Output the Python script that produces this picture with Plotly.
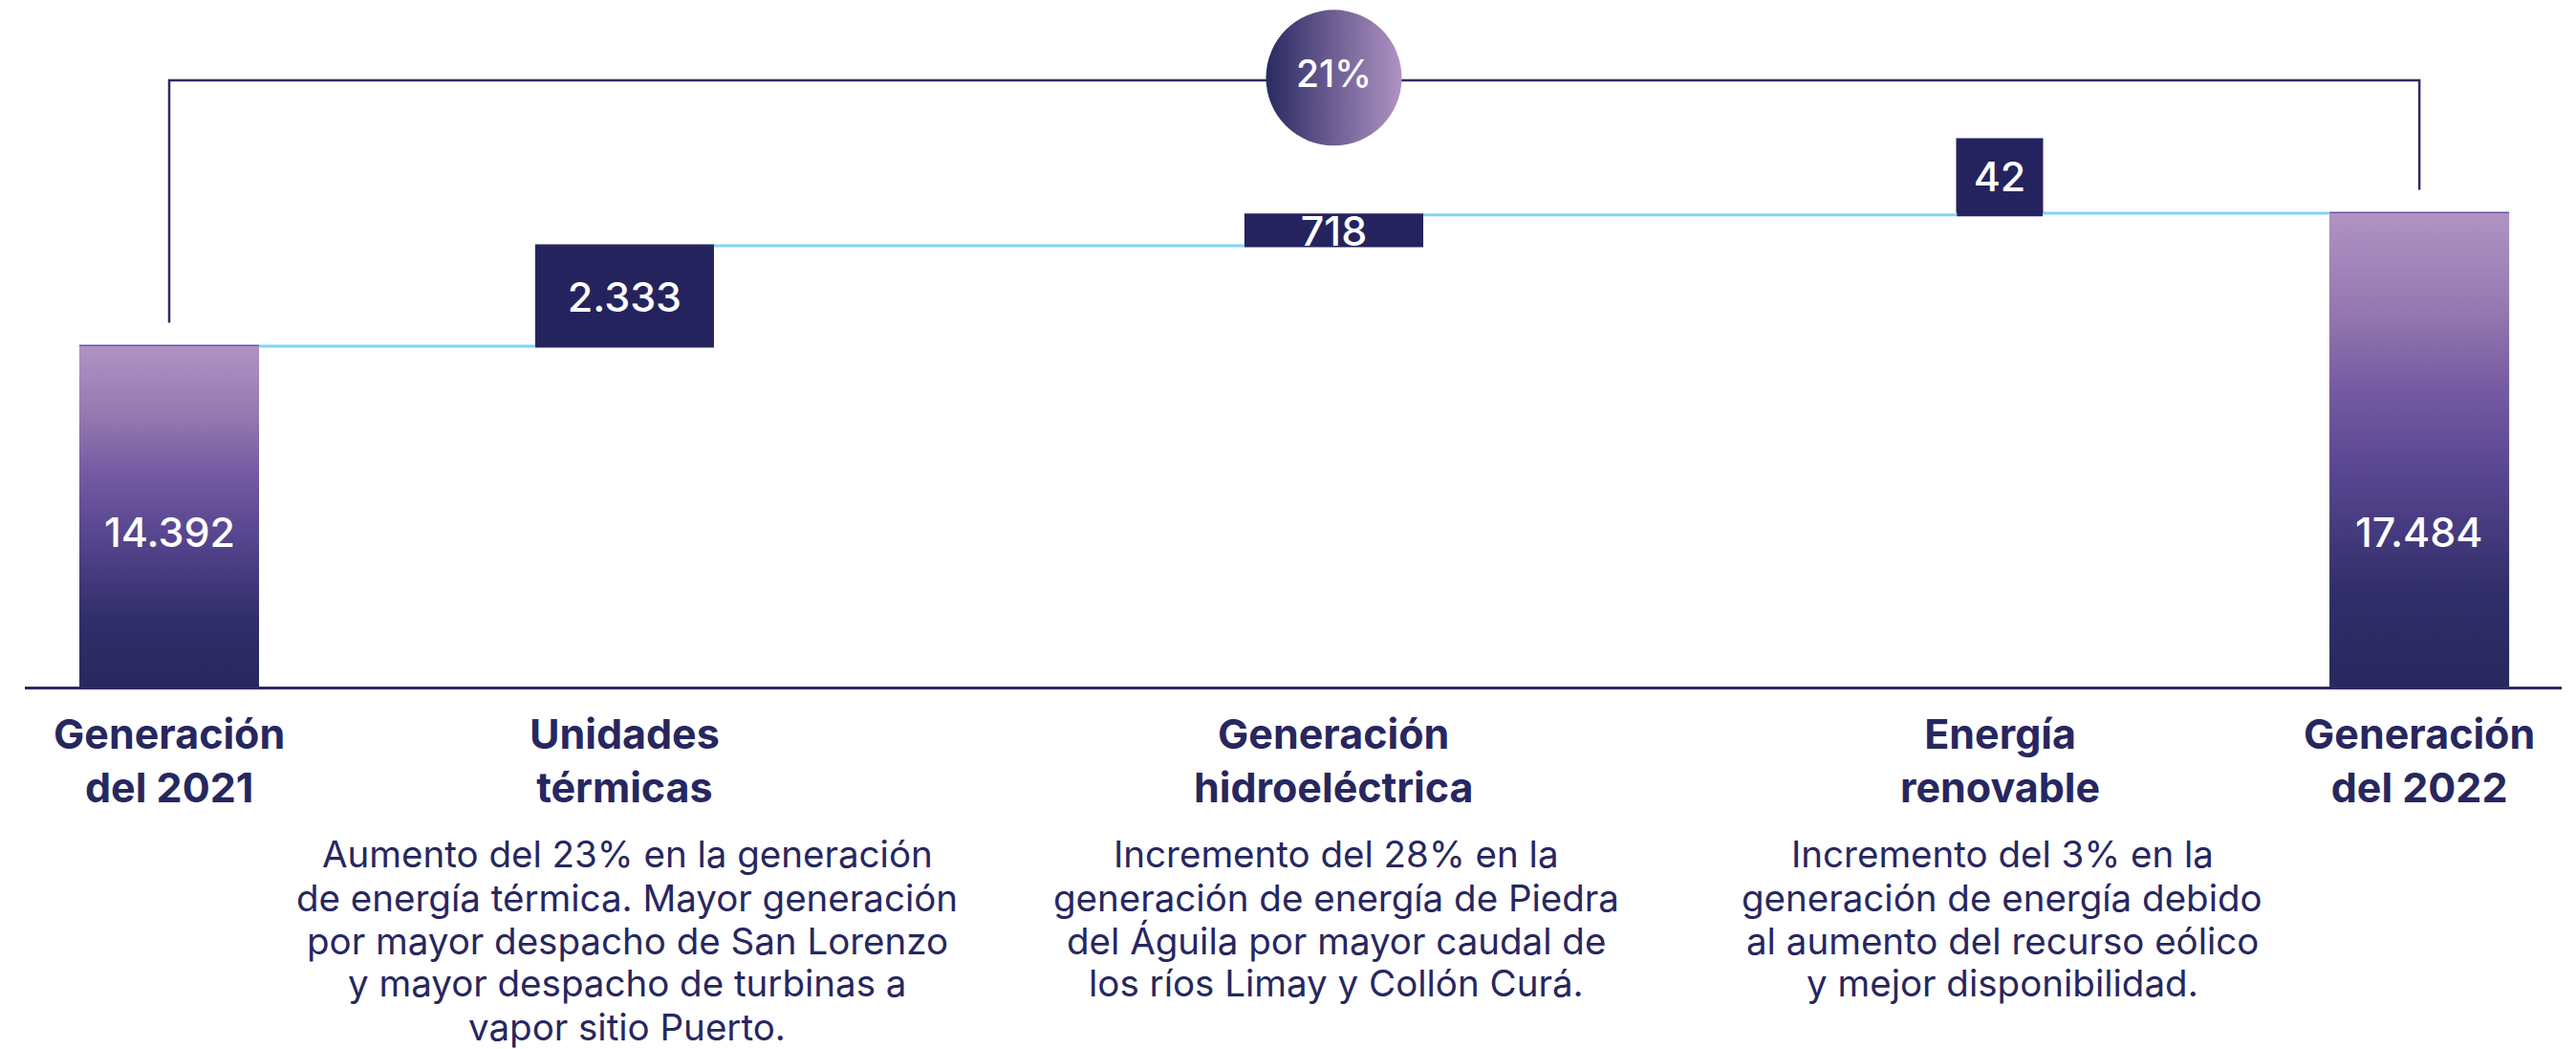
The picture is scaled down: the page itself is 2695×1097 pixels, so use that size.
import plotly.graph_objects as go

# ---------------- data ----------------
categories = ["Generación del 2021", "Unidades térmicas", "Generación hidroeléctrica",
              "Energía renovable", "Generación del 2022"]
heading_lines = [["Generación", "del 2021"], ["Unidades", "térmicas"],
                 ["Generación", "hidroeléctrica"], ["Energía", "renovable"],
                 ["Generación", "del 2022"]]
values = [14392, 2333, 718, 42, 17484]
measures = ["absolute", "relative", "relative", "relative", "total"]
description_lines = [
    [],
    ["Aumento del 23% en la generación", "de energía térmica. Mayor generación",
     "por mayor despacho de San Lorenzo", "y mayor despacho de turbinas a",
     "vapor sitio Puerto."],
    ["Incremento del 28% en la", "generación de energía de Piedra",
     "del Águila por mayor caudal de", "los ríos Limay y Collón Curá."],
    ["Incremento del 3% en la", "generación de energía debido",
     "al aumento del recurso eólico", "y mejor disponibilidad."],
    [],
]

# ---------------- layout / style ----------------
OFF = 8                      # browser body margin
W, H = 2695 - OFF, 1097 - OFF
BASE_PX = 718                # baseline row in the page
M_L, M_R, M_T = 26 - OFF, 15, 0
M_B = H - (BASE_PX - OFF)
X_POS = [5.69, 23.64, 51.60, 77.85, 94.39]      # column centres (x-axis units)
WIDTHS = [7.08, 7.05, 7.05, 3.39, 7.08]
PX_PER_UNIT = 0.044955
Y_MIN = 6473
Y_RANGE = [Y_MIN, Y_MIN + (BASE_PX - OFF) / PX_PER_UNIT]
BRACKET_Y = 20576
BRACKET_GAP = 545

NAVY = "#25235e"
TEXT_NAVY = "#27275f"
LINE_NAVY = "#2b2b66"
CYAN = "#7fd6f7"
LIGHT = "#b093c4"
FONT = "Inter"
GRAD = [[0.0, "#28285f"], [0.2, "#312e6a"], [0.45, "#584690"],
        [0.62, "#7459a2"], [0.8, "#9579b0"], [1.0, "#b093c4"]]

HEAD_SIZE = 43
DESC_SIZE, DESC_STEP = 38.5, 45

plot_h = H - M_T - M_B


def py(px):
    """page pixel row -> paper coordinate"""
    return (BASE_PX - px) / plot_h


def fmt(v):
    return f"{v:,}".replace(",", ".")


fig = go.Figure()

# waterfall (real values)
texts = ["", fmt(values[1]), fmt(values[2]), "", ""]
fig.add_trace(go.Waterfall(
    x=X_POS, y=values, measure=measures, width=WIDTHS,
    text=texts, textposition="inside", textangle=0, constraintext="none",
    insidetextanchor="middle",
    textfont=dict(family=FONT, size=43, color="white", weight=500),
    increasing=dict(marker=dict(color=NAVY, line=dict(width=0))),
    decreasing=dict(marker=dict(color=NAVY, line=dict(width=0))),
    totals=dict(marker=dict(color="#6a53a0", line=dict(width=0))),
    connector=dict(mode="between", line=dict(color=CYAN, width=3)),
    hoverinfo="skip", showlegend=False,
))

# gradient overlay on the two total bars
for i in (0, 4):
    x0, x1 = X_POS[i] - WIDTHS[i] / 2, X_POS[i] + WIDTHS[i] / 2
    fig.add_trace(go.Scatter(
        x=[x0, x1, x1, x0, x0],
        y=[Y_RANGE[0], Y_RANGE[0], values[i], values[i], Y_RANGE[0]],
        mode="lines", line=dict(width=0), fill="toself",
        fillgradient=dict(type="vertical", colorscale=GRAD,
                          start=Y_RANGE[0], stop=values[i]),
        hoverinfo="skip", showlegend=False,
    ))

# bracket between the two totals
fig.add_trace(go.Scatter(
    x=[X_POS[0], X_POS[0], X_POS[4], X_POS[4]],
    y=[values[0] + BRACKET_GAP, BRACKET_Y, BRACKET_Y, values[4] + BRACKET_GAP],
    mode="lines", line=dict(color=LINE_NAVY, width=2.5),
    hoverinfo="skip", showlegend=False,
))

# growth circle
growth = round((values[4] - values[0]) / values[0] * 100)
fig.add_trace(go.Scatter(
    x=[X_POS[2]], y=[BRACKET_Y + 60], mode="markers+text",
    text=[f"{growth}%"], textposition="middle center",
    textfont=dict(family=FONT, size=39, color="white", weight=500),
    marker=dict(size=142, color="#2a2a62", line=dict(width=0),
                gradient=dict(type="horizontal", color=LIGHT)),
    cliponaxis=False, hoverinfo="skip", showlegend=False,
))

annotations = []
# total value labels
for i in (0, 4):
    annotations.append(dict(x=X_POS[i], xref="x", y=py(556), yref="paper",
                            xanchor="center", yanchor="middle",
                            text=fmt(values[i]), showarrow=False,
                            font=dict(family=FONT, size=43, color="white", weight=500)))
# small increment label box
cum = sum(values[:4])
annotations.append(dict(x=X_POS[3], xref="x", y=cum, yref="y",
                        xanchor="center", yanchor="bottom",
                        text=fmt(values[3]), showarrow=False, bgcolor=NAVY,
                        width=90, height=77, borderpad=0,
                        font=dict(family=FONT, size=43, color="white", weight=500)))
# headings (two lines each)
for i, lines in enumerate(heading_lines):
    annotations.append(dict(x=X_POS[i], xref="x", y=py(795), yref="paper",
                            xanchor="center", yanchor="middle", align="center",
                            text="<b>" + "<br>".join(lines) + "</b>", showarrow=False,
                            font=dict(family=FONT, size=HEAD_SIZE, color=TEXT_NAVY)))
# descriptions
for i, lines in enumerate(description_lines):
    for j, line in enumerate(lines):
        annotations.append(dict(x=X_POS[i] + 0.1, xref="x", y=py(893 + DESC_STEP * j),
                                yref="paper", xanchor="center", yanchor="middle",
                                height=DESC_STEP, borderpad=0, valign="middle",
                                text=line, showarrow=False,
                                font=dict(family=FONT, size=DESC_SIZE, color=TEXT_NAVY)))

fig.update_layout(
    width=W, height=H,
    margin=dict(l=M_L, r=M_R, t=M_T, b=M_B),
    paper_bgcolor="white", plot_bgcolor="white",
    xaxis=dict(range=[0, 100], showgrid=False, zeroline=False, showticklabels=False,
               ticks="", showline=True, linecolor=LINE_NAVY, linewidth=3, fixedrange=True),
    yaxis=dict(range=Y_RANGE, visible=False, showgrid=False, zeroline=False,
               fixedrange=True),
    annotations=annotations,
    showlegend=False,
)

fig.write_html("out.html")
